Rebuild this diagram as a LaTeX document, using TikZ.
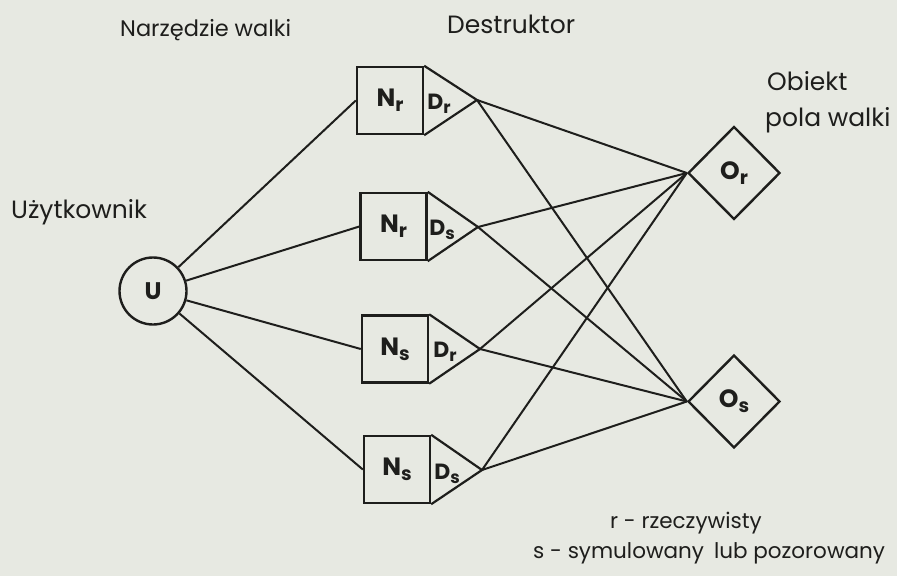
\documentclass[tikz,border=0pt]{standalone}
\usepackage{fontspec}
\setmainfont{Poppins}
\usetikzlibrary{shapes.geometric}
\definecolor{paper}{RGB}{231,233,226}
\definecolor{ink}{RGB}{30,30,28}
\newcommand{\lowsub}[1]{\raisebox{-0.35ex}{\fontsize{19}{19}\selectfont #1}}
\newcommand{\dsub}[1]{\raisebox{-0.35ex}{\fontsize{17}{17}\selectfont #1}}
\newcommand{\fs}[1]{\fontsize{#1}{#1}\selectfont}
\begin{document}
\begin{tikzpicture}[x=1pt,y=-1pt,
  conn/.style={draw=ink,line width=2pt},
  nbox/.style={draw=ink,line width=2.4pt,minimum width=66pt,minimum height=67pt,inner sep=0pt,font=\fs{25}\bfseries,text=ink},
  tri/.style={draw=ink,line width=2.2pt,line join=miter},
  odiam/.style={diamond,draw=ink,line width=2.4pt,minimum width=92pt,minimum height=93pt,inner sep=0pt,font=\fs{25}\bfseries,text=ink},
  dlab/.style={font=\fs{22}\bfseries,text=ink,inner sep=0pt},
  lab/.style={text=ink,inner sep=0pt}]
\fill[paper] (0,0) rectangle (897,576);
\useasboundingbox (0,0) rectangle (897,576);

% user
\node[circle,draw=ink,line width=2.4pt,minimum size=67pt,inner sep=0pt,font=\fs{24}\bfseries,text=ink] (U) at (153,291) {U};

% boxes
\node[nbox] (b1) at (390,100.5) {N\lowsub{r}};
\node[nbox] (b2) at (393.5,226.5) {N\lowsub{r}};
\node[nbox] (b3) at (395,349) {N\lowsub{s}};
\node[nbox] (b4) at (397,469.5) {N\lowsub{s}};

% triangle apexes
\coordinate (t1) at (477,100);
\coordinate (t2) at (478,227);
\coordinate (t3) at (480,349);
\coordinate (t4) at (482,470);

\draw[tri] (b1.north east) -- (t1) -- (b1.south east);
\draw[tri] (b2.north east) -- (t2) -- (b2.south east);
\draw[tri] (b3.north east) -- (t3) -- (b3.south east);
\draw[tri] (b4.north east) -- (t4) -- (b4.south east);

\node[dlab] (d1) at (439,104) {D\dsub{r}};
\node[dlab] (d2) at (442,230) {D\dsub{s}};
\node[dlab] (d3) at (445,352) {D\dsub{r}};
\node[dlab] (d4) at (447,474) {D\dsub{s}};

% objects
\node[odiam] (Or) at (734,173) {O\lowsub{r}};
\node[odiam] (Os) at (734,401.5) {O\lowsub{s}};

% connectors
\draw[conn] (U) -- (b1.west);
\draw[conn] (U) -- (b2.west);
\draw[conn] (U) -- (b3.west);
\draw[conn] (U) -- (b4.west);

\foreach \t in {t1,t2,t3,t4}{
  \draw[conn] (\t) -- (Or.west);
  \draw[conn] (\t) -- (Os.west);
}

% labels
\node[lab,font=\fs{22.5},anchor=west] (l1) at (120,30) {Narzędzie walki};
\node[lab,font=\fs{25},anchor=west] (l2) at (447,24) {Destruktor};
\node[lab,font=\fs{25},anchor=west] (l3) at (767,81) {Obiekt};
\node[lab,font=\fs{25},anchor=west] (l4) at (765,120) {pola walki};
\node[lab,font=\fs{25},anchor=west] (l5) at (11,212) {Użytkownik};
\node[lab,font=\fs{21.5},anchor=west] (l6) at (610,523) {r - rzeczywisty};
\node[lab,font=\fs{21.5},anchor=west] (l7) at (533,553) {s - symulowany\hspace{10pt}lub pozorowany};
\end{tikzpicture}
\end{document}
